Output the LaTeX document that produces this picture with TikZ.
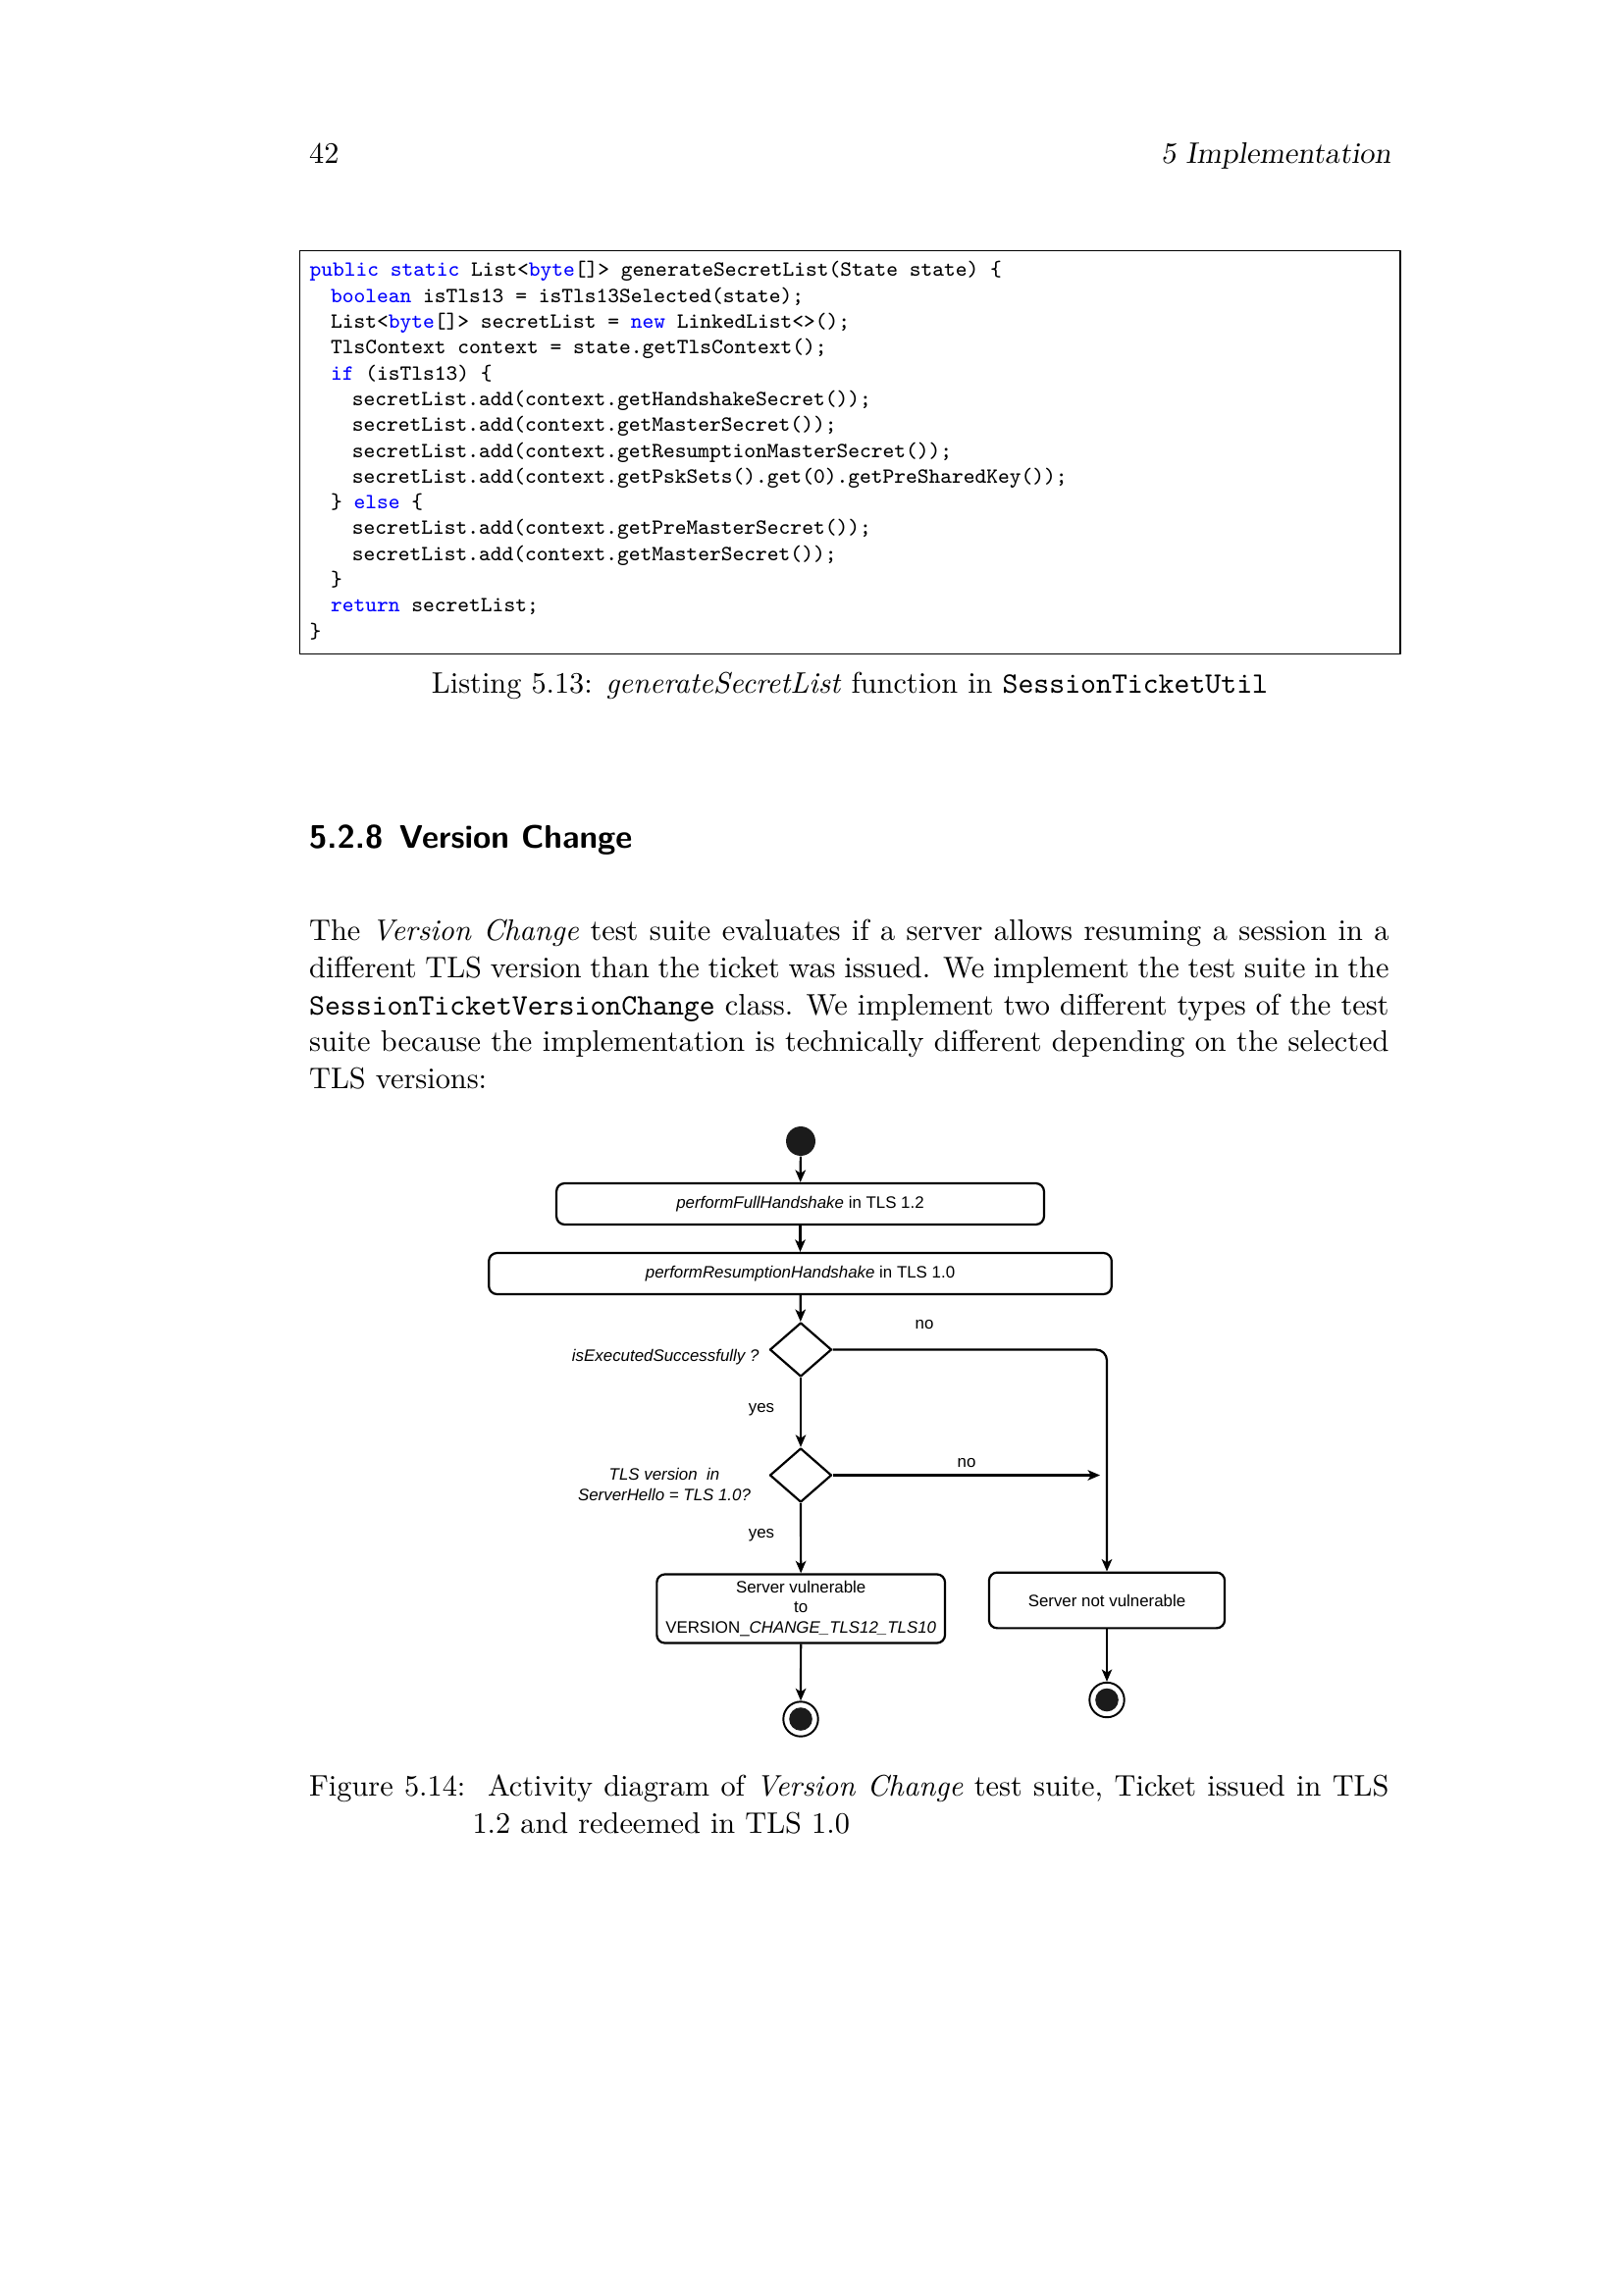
\documentclass[tikz,border=0pt]{standalone}
\usepackage{fontspec}
\usepackage{xcolor}
\usetikzlibrary{arrows.meta,shapes.geometric,calc,positioning}
\newfontfamily\drawfont{Liberation Sans}
\newcommand{\kw}[1]{\textcolor{blue}{#1}}
\definecolor{umldark}{HTML}{1B1B1B}
\tikzset{
  txt/.style={anchor=base west,inner sep=0pt,font=\fontsize{10.95}{13.6}\selectfont},
  codeline/.style={anchor=base west,inner sep=0pt,font=\ttfamily\fontsize{8}{9.5}\selectfont},
  act/.style={draw,rounded corners=3pt,line width=0.8pt,inner sep=0pt,align=center,font=\drawfont\fontsize{6.1}{7.3}\selectfont},
  dec/.style={draw,diamond,line width=0.8pt,minimum width=8mm,minimum height=7mm,inner sep=0pt},
  lbl/.style={inner sep=0pt,font=\drawfont\fontsize{6.1}{7.3}\selectfont},
  flow/.style={line width=0.8pt,-{Stealth[length=4.5pt,width=3.8pt,inset=1.2pt]}},
}
\begin{document}
\begin{tikzpicture}[x=0.127mm,y=-0.127mm,line join=round]
\useasboundingbox (0,0) rectangle (1654,2339);
\fill[white] (0,0) rectangle (1654,2339);
% running head
\node[txt] (pagenum) at (314.6,167) {42};
\node[txt,anchor=base east,font=\fontsize{10.95}{13.6}\selectfont\slshape] (runhead) at (1418,167) {5 Implementation};
% listing
\draw[line width=0.4pt] (305.7,255.5) rectangle (1427,666.5);
\foreach \ind/\code [count=\k] in {
  0/{\kw{public} \kw{static} List<\kw{byte}[]> generateSecretList(State state) \{},
  1/{\kw{boolean} isTls13 = isTls13Selected(state);},
  1/{List<\kw{byte}[]> secretList = \kw{new} LinkedList<>();},
  1/{TlsContext context = state.getTlsContext();},
  1/{\kw{if} (isTls13) \{},
  2/{secretList.add(context.getHandshakeSecret());},
  2/{secretList.add(context.getMasterSecret());},
  2/{secretList.add(context.getResumptionMasterSecret());},
  2/{secretList.add(context.getPskSets().get(0).getPreSharedKey());},
  1/{\} \kw{else} \{},
  2/{secretList.add(context.getPreMasterSecret());},
  2/{secretList.add(context.getMasterSecret());},
  1/{\}},
  1/{\kw{return} secretList;},
  0/{\}}}
  {\node[codeline] (code\k) at ({315+21.6*\ind},{281.7+26.33*(\k-1)}) {\code};}
\node[txt,anchor=base] (lstcap) at (866,706) {Listing 5.13: \textit{generateSecretList} function in \texttt{SessionTicketUtil}};
% section
\node[txt,font=\sffamily\bfseries\fontsize{12}{14.5}\selectfont] (sec) at (314.6,864) {5.2.8\enskip Version Change};
\foreach \ln [count=\k] in {
  {The \textit{Version Change} test suite evaluates if a server allows resuming a session in a},
  {different TLS version than the ticket was issued. We implement the test suite in the},
  {\texttt{SessionTicketVersionChange} class. We implement two different types of the test},
  {suite because the implementation is technically different depending on the selected}}
  {\node[txt] (para\k) at (314.6,{958.5+37.8*(\k-1)}) {\makebox[397.6pt][s]{\ln}};}
\node[txt] (para5) at (314.6,1109.7) {TLS versions:};
% activity diagram
\node[circle,fill=umldark,minimum size=3.8mm,inner sep=0pt] (start) at (816,1163) {};
\node[act,minimum width=63.1mm,minimum height=5.33mm] (full) at (815.5,1227) {\textit{performFullHandshake} in TLS 1.2};
\node[act,minimum width=80.6mm,minimum height=5.33mm] (resume) at (815.5,1298) {\textit{performResumptionHandshake} in TLS 1.0};
\node[dec] (succ) at (816,1375.5) {};
\node[dec] (vers) at (816,1503.5) {};
\node[act,minimum width=37.3mm,minimum height=8.9mm] (vuln) at (816.2,1639.5) {Server vulnerable\\to\\VERSION\_\textit{CHANGE\_TLS12\_TLS10}};
\node[act,minimum width=30.5mm,minimum height=7.2mm] (safe) at (1128,1631) {Server not vulnerable};
\node[circle,draw,line width=0.7pt,fill=white,minimum size=4.5mm,inner sep=0pt] (fin1) at (816,1752) {};
\node[circle,draw,line width=0.7pt,fill=white,minimum size=4.5mm,inner sep=0pt] (fin2) at (1128,1732.5) {};
\fill[umldark] (fin1) circle (1.5mm) (fin2) circle (1.5mm);
\coordinate (noend) at (1121,1503.5);
% labels
\node[lbl,anchor=east] (succlbl) at (774,1383) {\textit{isExecutedSuccessfully ?}};
\node[lbl,align=center] (verslbl) at (677,1513) {\textit{TLS version\ \ in}\\\textit{ServerHello = TLS 1.0?}};
\node[lbl] (no1) at (942,1350) {no};
\node[lbl] (yes1) at (776,1437) {yes};
\node[lbl] (no2) at (985,1491) {no};
\node[lbl] (yes2) at (776,1565) {yes};
% connectors
\draw[flow] (start) -- (full);
\draw[flow] (full) -- (resume);
\draw[flow] (resume) -- (succ);
\draw[flow] (succ) -- (vers);
\draw[flow,rounded corners=4pt] (succ.east) -| (safe.north);
\draw[flow] (vers.east) -- (noend);
\draw[flow] (vers) -- (vuln);
\draw[flow] (vuln) -- (fin1);
\draw[flow,line width=0.5pt] (safe) -- (fin2);
% figure caption
\node[txt] (figcap1) at (314.6,1830.5) {\makebox[397.6pt][s]{Figure 5.14:\ \ Activity diagram of \textit{Version Change} test suite, Ticket issued in TLS}};
\node[txt] (figcap2) at (481,1868.3) {1.2 and redeemed in TLS 1.0};
\end{tikzpicture}
\end{document}
